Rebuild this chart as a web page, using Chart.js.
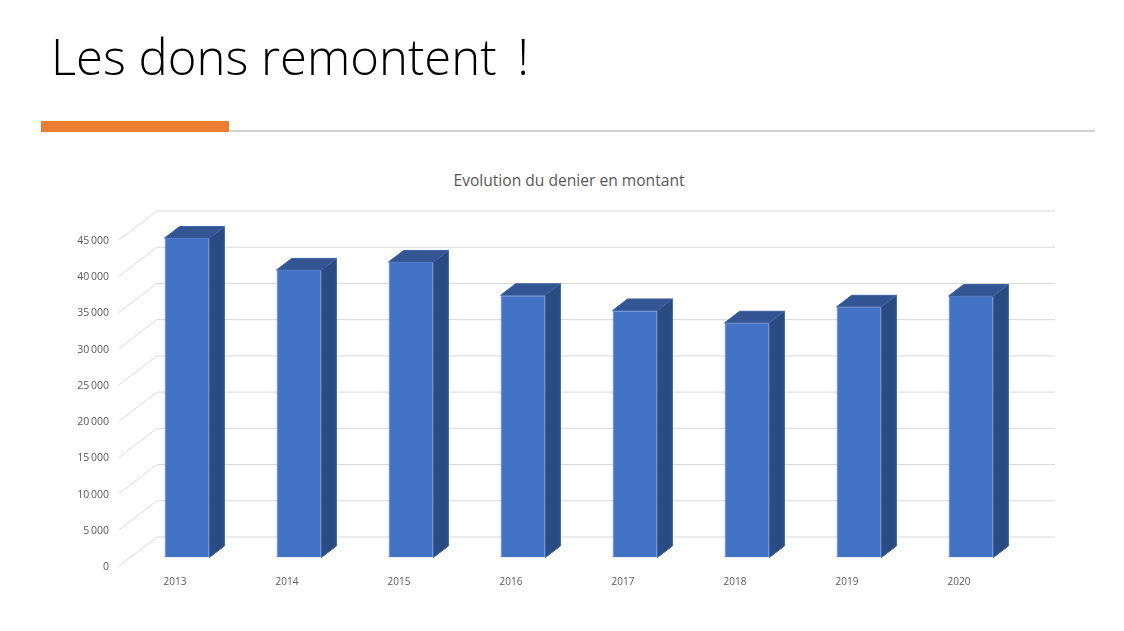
<!DOCTYPE html>
<html lang="fr">
<head>
<meta charset="utf-8">
<title>Les dons remontent !</title>
<script src="https://cdn.jsdelivr.net/npm/chart.js@4"></script>
<style>
  html, body { margin: 0; padding: 0; background: #fff; }
  body { width: 1124px; height: 631px; position: relative; overflow: hidden; }
  #slideTitle { position: absolute; left: 51px; top: 23px; font: 300 49px/67px "Open Sans", sans-serif; color: #000; white-space: nowrap; }
  #slideTitle span { margin-left: 8px; }
  #ruleGrey { position: absolute; left: 229px; top: 130px; width: 866px; height: 2px; background: #d2d2d2; }
  #ruleOrange { position: absolute; left: 41px; top: 121px; width: 188px; height: 11px; background: #ed7d31; }
  #chartTitle { position: absolute; left: 269px; width: 600px; top: 170px; text-align: center; font: 15.6px/21px "Open Sans", sans-serif; color: #595959; }
  #chartBox { position: absolute; left: 14px; top: 160px; }
</style>
</head>
<body>
<div id="slideTitle">Les dons remontent <span>!</span></div>
<div id="ruleGrey"></div>
<div id="ruleOrange"></div>
<div id="chartTitle">Evolution du denier en montant</div>
<div id="chartBox"><canvas id="chart" width="1110" height="471"></canvas></div>
<script>
const categories = ["2013", "2014", "2015", "2016", "2017", "2018", "2019", "2020"];
const montants = [44100, 39700, 40800, 36200, 34100, 32400, 34600, 36100];
const tickLabels = ["0", "5\u2009000", "10\u2009000", "15\u2009000", "20\u2009000", "25\u2009000", "30\u2009000", "35\u2009000", "40\u2009000", "45\u2009000"];

// fake 3D: the scales are the plane of the bars' front faces
const floor = { front: [-12, 8.5], back: [26, -20.5] };
const barDepth = [15, -11.5];

const fake3d = {
  id: "fake3d",
  beforeDatasetsDraw(chart) {
    const { ctx, chartArea, scales: { y } } = chart;
    ctx.save();
    ctx.lineWidth = 1;
    ctx.strokeStyle = "#d9d9d9";
    y.ticks.forEach(t => {
      const py = y.getPixelForValue(t.value);
      ctx.beginPath();
      ctx.moveTo(chartArea.left + floor.front[0], py + floor.front[1]);
      ctx.lineTo(chartArea.left + floor.back[0], py + floor.back[1]);
      ctx.lineTo(chartArea.right + floor.back[0] + 2, py + floor.back[1]);
      ctx.stroke();
    });
    // sides and tops of the bars
    chart.getDatasetMeta(0).data.forEach(bar => {
      const r = bar.x + bar.width / 2;
      const l = bar.x - bar.width / 2;
      ctx.strokeStyle = "#3f619f";
      ctx.fillStyle = "#2a4a83";
      ctx.beginPath();
      ctx.moveTo(r, bar.y);
      ctx.lineTo(r + barDepth[0], bar.y + barDepth[1]);
      ctx.lineTo(r + barDepth[0], bar.base + barDepth[1]);
      ctx.lineTo(r, bar.base);
      ctx.closePath();
      ctx.fill();
      ctx.stroke();
      ctx.fillStyle = "#335593";
      ctx.beginPath();
      ctx.moveTo(l, bar.y);
      ctx.lineTo(l + barDepth[0], bar.y + barDepth[1]);
      ctx.lineTo(r + barDepth[0], bar.y + barDepth[1]);
      ctx.lineTo(r, bar.y);
      ctx.closePath();
      ctx.fill();
      ctx.stroke();
    });
    ctx.restore();
  }
};

new Chart(document.getElementById("chart").getContext("2d"), {
  type: "bar",
  plugins: [fake3d],
  data: {
    labels: categories,
    datasets: [{
      data: montants,
      backgroundColor: "#4472c4",
      borderColor: "#5379c6",
      borderWidth: 1,
      barPercentage: 1,
      categoryPercentage: 0.4
    }]
  },
  options: {
    responsive: false,
    animation: false,
    layout: { padding: { top: 71.5, right: 97 } },
    plugins: {
      legend: { display: false },
      tooltip: { enabled: false }
    },
    scales: {
      x: {
        grid: { display: false, drawTicks: false },
        border: { display: false },
        ticks: { color: "#595959", font: { family: "Open Sans", size: 10 }, padding: 19, labelOffset: -12, maxRotation: 0 },
        afterFit: s => { s.height = 73.5; }
      },
      y: {
        min: 0,
        max: 45000,
        grid: { display: false, drawTicks: false },
        border: { display: false },
        ticks: {
          stepSize: 5000,
          color: "#595959",
          font: { family: "Open Sans", size: 10.5 },
          padding: 22,
          labelOffset: 9.5,
          callback: (v, i) => tickLabels[i]
        },
        afterFit: s => { s.width = 117; }
      }
    }
  }
});
</script>
</body>
</html>
